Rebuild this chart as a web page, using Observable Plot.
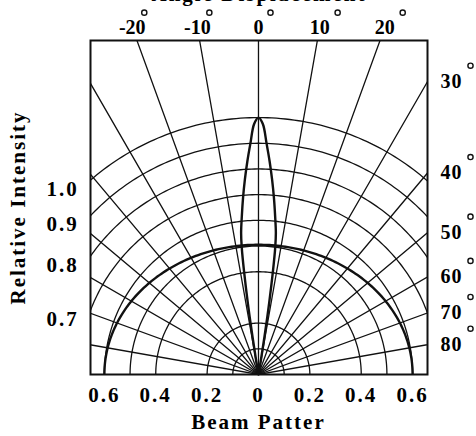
<!DOCTYPE html>
<html><head><meta charset="utf-8">
<script src="https://cdn.jsdelivr.net/npm/d3@7"></script>
<script src="https://cdn.jsdelivr.net/npm/@observablehq/plot@0.6"></script>
<style>
html,body{margin:0;padding:0;background:#fff;}
#chart{position:relative;width:476px;height:436px;overflow:hidden;}
.sp2 text{letter-spacing:2px;}
.sp1 text{letter-spacing:1px;}
</style></head>
<body><div id="chart"></div>
<script>
// ---- data ----
const titleText = "Angle Displacement";
const yTitle = "Relative Intensity";
const xTitle = "Beam Patter";
const gridRadii = [0.1, 0.2, 0.4, 0.5, 0.6, 0.7, 0.8, 0.9, 1.0];
const thickCurveTop = 0.505;   // thick reference curve, height at 0°
const thickCurveSide = 0.6;    // thick reference curve, half-width at ±90°
const spokeAngles = [-80, -70, -60, -50, -40, -30, -20, -10, 0, 10, 20, 30, 40, 50, 60, 70, 80];
const topAngleLabels = [-20, -10, 0, 10, 20];
const sideAngleLabels = [30, 40, 50, 60, 70, 80];
const intensityLabels = [1.0, 0.9, 0.8, 0.7];
const beamTicks = [-0.6, -0.4, -0.2, 0, 0.2, 0.4, 0.6];
const beamAngles =    [-10, -9.5, -9, -8.5, -8, -7.5, -7, -6, -5, -4, -3, -2, -1, 0, 1, 2, 3, 4, 5, 6, 7, 7.5, 8, 8.5, 9, 9.5, 10];
const beamIntensity = [0, 0.06, 0.15, 0.28, 0.40, 0.50, 0.555, 0.62, 0.69, 0.76, 0.83, 0.90, 0.975, 1.0, 0.975, 0.90, 0.83, 0.76, 0.69, 0.62, 0.555, 0.50, 0.40, 0.28, 0.15, 0.06, 0];

// ---- geometry helpers ----
const rad = d => d * Math.PI / 180;
const xDomain = [-0.654, 0.658];
const yDomain = [0, 1.30];
const xL = xDomain[0], xR = xDomain[1];
const labelRowY = 1.35;

const spokes = spokeAngles.flatMap(a => [0, 2].map(r => ({a, x: r * Math.sin(rad(a)), y: r * Math.cos(rad(a))})));
const arcPts = rs => rs.flatMap(r => d3.range(-90, 90.5, 1).map(t => ({r, x: r * Math.sin(rad(t)), y: r * Math.cos(rad(t))})));
const thickPts = d3.range(-90, 90.5, 1).map(t => ({x: thickCurveSide * Math.sin(rad(t)), y: thickCurveTop * Math.cos(rad(t))}));
const beam = beamAngles.map((a, i) => ({x: beamIntensity[i] * Math.sin(rad(a)), y: beamIntensity[i] * Math.cos(rad(a))}));
const topLab = topAngleLabels.map(a => ({a, x: Math.tan(rad(a)) * labelRowY, y: labelRowY}));
const sideLab = sideAngleLabels.map(a => ({a, x: xR, y: xR / Math.tan(rad(a))}));
const leftLab = intensityLabels.map(v => ({v, x: xL, y: Math.sqrt(v * v - xL * xL)}));

const font = "'Liberation Serif','Times New Roman',serif";
const bold = {fontWeight: "bold", fill: "black"};

const chart = Plot.plot({
  width: 476, height: 436,
  marginTop: 40, marginRight: 49, marginBottom: 62, marginLeft: 90,
  x: {domain: xDomain, axis: null},
  y: {domain: yDomain, axis: null},
  style: {fontFamily: font, background: "white", color: "black", overflow: "visible"},
  marks: [
    Plot.line(spokes, {x: "x", y: "y", z: "a", stroke: "#111", strokeWidth: 1.3, clip: true}),
    Plot.line(arcPts(gridRadii), {x: "x", y: "y", z: "r", stroke: "#111", strokeWidth: 1.3, clip: true}),
    Plot.line(thickPts, {x: "x", y: "y", stroke: "#111", strokeWidth: 2.4, clip: true}),
    Plot.line(beam, {x: "x", y: "y", stroke: "#111", strokeWidth: 2.4, curve: "catmull-rom"}),
    Plot.frame({stroke: "#111", strokeWidth: 2}),
    // bottom ticks
    Plot.text(beamTicks, {x: d => d, y: 0, text: d => d === 0 ? "0" : Math.abs(d).toFixed(1), dy: 21, fontSize: 21, ...bold, className: "sp2"}),
    Plot.text([xTitle], {x: 0, y: 0, text: d => d, dy: 48, fontSize: 21, ...bold, className: "sp2"}),
    // left
    Plot.text([yTitle], {frameAnchor: "left", textAnchor: "middle", lineAnchor: "middle", text: d => d, rotate: -90, dx: -72, fontSize: 21, ...bold, className: "sp2"}),
    Plot.text(leftLab, {x: "x", y: "y", text: d => d.v.toFixed(1), dx: -28, dy: 9, fontSize: 21, ...bold, className: "sp2"}),
    // top (title is cut off by the top edge, as in the reference)
    Plot.text([titleText], {frameAnchor: "top", textAnchor: "middle", lineAnchor: "middle", text: d => d, dy: -46, fontSize: 21, ...bold, className: "sp2"}),
    Plot.text(topLab, {x: "x", y: "y", text: d => String(d.a), fontSize: 20, ...bold}),
    Plot.dot(topLab.filter(d => d.a <= 0), {x: "x", y: "y", dx: 12, dy: -15, r: 2.6, stroke: "#111", strokeWidth: 1.4, fill: "white"}),
    Plot.dot(topLab.filter(d => d.a > 0), {x: "x", y: "y", dx: 18, dy: -15, r: 2.6, stroke: "#111", strokeWidth: 1.4, fill: "white"}),
    // right
    Plot.text(sideLab, {x: "x", y: "y", text: d => String(d.a), dx: 24, fontSize: 20, ...bold, className: "sp1"}),
    Plot.dot(sideLab, {x: "x", y: "y", dx: 43, dy: -16, r: 2.6, stroke: "#111", strokeWidth: 1.4, fill: "white"})
  ]
});
document.getElementById("chart").appendChild(chart);
</script>
</body></html>
